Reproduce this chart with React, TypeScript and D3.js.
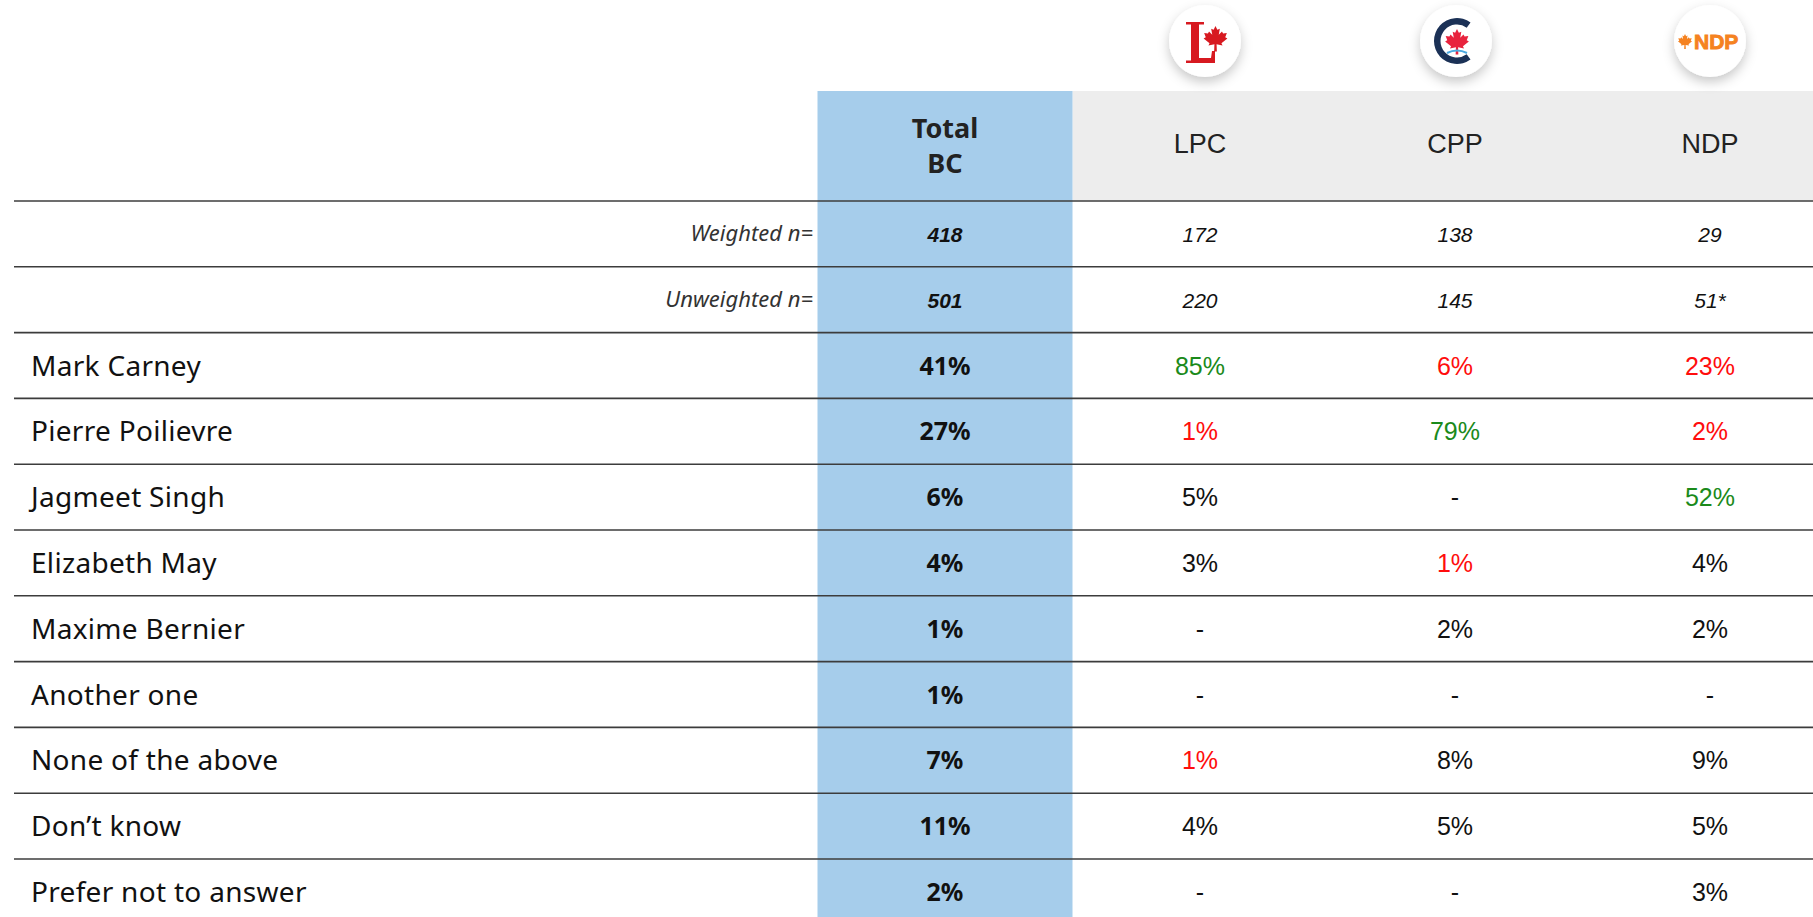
import React from 'react';
import * as d3 from 'd3';

const columns = ['Total BC', 'LPC', 'CPP', 'NDP'];
const headerLines = [['Total', 'BC'], ['LPC'], ['CPP'], ['NDP']];
const weightedN = ['418', '172', '138', '29'];
const unweightedN = ['501', '220', '145', '51*'];
const answers = [
  'Mark Carney',
  'Pierre Poilievre',
  'Jagmeet Singh',
  'Elizabeth May',
  'Maxime Bernier',
  'Another one',
  'None of the above',
  'Don\u2019t know',
  'Prefer not to answer',
];
const totalBC = [41, 27, 6, 4, 1, 1, 7, 11, 2];
const lpc = [85, 1, 5, 3, null, null, 1, 4, null];
const cpp = [6, 79, null, 1, 2, null, 8, 5, null];
const ndp = [23, 2, 52, 4, 2, null, 9, 5, 3];
// significance markers vs. total: 'up' = higher (green), 'down' = lower (red)
const lpcSig = ['up', 'down', '', '', '', '', 'down', '', ''];
const cppSig = ['down', 'up', '', 'down', '', '', '', '', ''];
const ndpSig = ['down', 'down', 'up', '', '', '', '', '', ''];

const W = 1813;
const H = 917;
const BLUE = '#a6cdeb';
const GRAY = '#ededed';
const GREEN = '#1b8a1b';
const RED = '#ff0d0d';
const LABEL_FONT = '"Noto Sans", "Open Sans", sans-serif';
const VALUE_FONT = '"Liberation Sans", Arial, sans-serif';

const LEAF =
  'M50,0 L57,14 L66,10 L62,32 L74,20 L78,28 L92,26 L86,42 L94,46 L72,64 L76,72 L54,68 L55,94 L45,94 L46,68 L24,72 L28,64 L6,46 L14,42 L8,26 L22,28 L26,20 L38,32 L34,10 L43,14 Z';

function fmt(v: number | null) {
  return v === null ? '-' : `${v}%`;
}

function LiberalLogo() {
  return (
    <g>
      <path
        d="M-19,-19 L-1,-19 L-1,-16.5 L-6,-16.5 L-6,17 L6,17 L7,10 L10,10 L10,22 L-19,22 L-19,19.5 L-14,19.5 L-14,-16.5 L-19,-16.5 Z"
        fill="#d71920"
      />
      <path d={LEAF} transform="translate(-3,-15) scale(0.27)" fill="#d71920" />
    </g>
  );
}

function ConservativeLogo() {
  const arc = d3.arc()({
    innerRadius: 16.5,
    outerRadius: 23,
    startAngle: Math.PI * 0.8,
    endAngle: Math.PI * 2.2,
  } as any) as string;
  return (
    <g>
      <path d={arc} transform="translate(1,0)" fill="#1b3156" />
      <path d={LEAF} transform="translate(-12.5,-12) scale(0.27)" fill="#e8233d" />
      <path d="M-9,12 Q1,7 11,12" fill="none" stroke="#4aa8e0" strokeWidth={2} />
    </g>
  );
}

function NdpLogo() {
  return (
    <g>
      <path d={LEAF} transform="translate(-33,-7) scale(0.16)" fill="#f58220" />
      <text
        x={-16}
        y={8}
        fontFamily={VALUE_FONT}
        fontWeight={700}
        fontSize={21}
        fill="#f58220"
        stroke="#f58220"
        strokeWidth={0.9}
      >
        NDP
      </text>
    </g>
  );
}

const logos = [null, LiberalLogo, ConservativeLogo, NdpLogo];

export default function App() {
  const x = d3
    .scaleBand<string>()
    .domain(columns)
    .range([817.5, 817.5 + 255 * columns.length]);
  const rowKeys = ['weighted', 'unweighted', ...answers];
  const y = d3
    .scaleBand<string>()
    .domain(rowKeys)
    .range([200.5, 200.5 + 65.8 * rowKeys.length]);
  const bw = x.bandwidth();
  const rh = y.bandwidth();
  const cx = (c: string) => (x(c) as number) + bw / 2;
  const mid = (r: string) => (y(r) as number) + rh / 2;

  const series = [totalBC, lpc, cpp, ndp];
  const sigs = [null, lpcSig, cppSig, ndpSig];
  const headerTop = 91;
  const headerBottom = y('weighted') as number;

  return (
    <svg
      width={W}
      height={H}
      style={{ position: 'absolute', left: 0, top: 0, background: '#fff' }}
    >
      <defs>
        <filter id="logoShadow" x="-80%" y="-80%" width="260%" height="260%">
          <feDropShadow dx="0" dy="5" stdDeviation="6" floodColor="#000" floodOpacity="0.22" />
        </filter>
      </defs>
      <rect x={0} y={0} width={W} height={H} fill="#fff" />
      {/* gray header band */}
      <rect
        x={x('LPC') as number}
        y={headerTop}
        width={W - (x('LPC') as number)}
        height={headerBottom - headerTop}
        fill={GRAY}
      />
      {/* blue total column */}
      <rect x={x('Total BC') as number} y={headerTop} width={bw} height={H - headerTop} fill={BLUE} />

      {/* logos */}
      {columns.map((c, i) => {
        const Logo = logos[i];
        if (!Logo) return null;
        const lx = cx(c) + (i === 1 ? 5 : i === 2 ? 1 : 0);
        return (
          <g key={c} transform={`translate(${lx},41)`}>
            <circle r={36} fill="#fff" filter="url(#logoShadow)" />
            <Logo />
          </g>
        );
      })}

      {/* header labels */}
      {columns.map((c, i) =>
        i === 0 ? (
          <text
            key={c}
            textAnchor="middle"
            fontFamily={LABEL_FONT}
            fontWeight={700}
            fontSize={27}
            fill="#222"
          >
            <tspan x={cx(c)} y={138}>
              {headerLines[i][0]}
            </tspan>
            <tspan x={cx(c)} y={173}>
              {headerLines[i][1]}
            </tspan>
          </text>
        ) : (
          <text
            key={c}
            x={cx(c)}
            y={153}
            textAnchor="middle"
            fontFamily={VALUE_FONT}
            fontSize={27}
            fill="#222"
          >
            {headerLines[i][0]}
          </text>
        )
      )}

      {/* row separators */}
      {rowKeys.map((r) => (
        <line
          key={`l-${r}`}
          x1={14}
          x2={W}
          y1={(y(r) as number) + 0.5}
          y2={(y(r) as number) + 0.5}
          stroke="#3c3c3c"
          strokeWidth={1.6}
        />
      ))}

      {/* sample size rows */}
      {[
        ['weighted', 'Weighted n=', weightedN],
        ['unweighted', 'Unweighted n=', unweightedN],
      ].map(([key, label, vals]) => (
        <g key={key as string}>
          <text
            x={813}
            y={mid(key as string) + 7.5}
            textAnchor="end"
            fontFamily={LABEL_FONT}
            fontStyle="italic"
            fontSize={22}
            fill="#333"
          >
            {label as string}
          </text>
          {columns.map((c, i) => (
            <text
              key={c}
              x={cx(c)}
              y={mid(key as string) + 9}
              textAnchor="middle"
              fontFamily={VALUE_FONT}
              fontStyle="italic"
              fontWeight={i === 0 ? 700 : 400}
              fontSize={21}
              fill="#111"
            >
              {(vals as string[])[i]}
            </text>
          ))}
        </g>
      ))}

      {/* answer rows */}
      {answers.map((a, ri) => (
        <g key={a}>
          <text
            x={31}
            y={mid(a) + 10.5}
            fontFamily={LABEL_FONT}
            fontSize={28}
            letterSpacing={0.3}
            fill="#111"
          >
            {a}
          </text>
          {columns.map((c, ci) => {
            const v = series[ci][ri];
            const sig = sigs[ci] ? (sigs[ci] as string[])[ri] : '';
            const color = sig === 'up' ? GREEN : sig === 'down' ? RED : '#111';
            return (
              <text
                key={c}
                x={cx(c)}
                y={mid(a) + 9.5}
                textAnchor="middle"
                fontFamily={ci === 0 ? LABEL_FONT : VALUE_FONT}
                fontWeight={ci === 0 ? 700 : 400}
                fontSize={25}
                fill={color}
              >
                {fmt(v)}
              </text>
            );
          })}
        </g>
      ))}
    </svg>
  );
}
